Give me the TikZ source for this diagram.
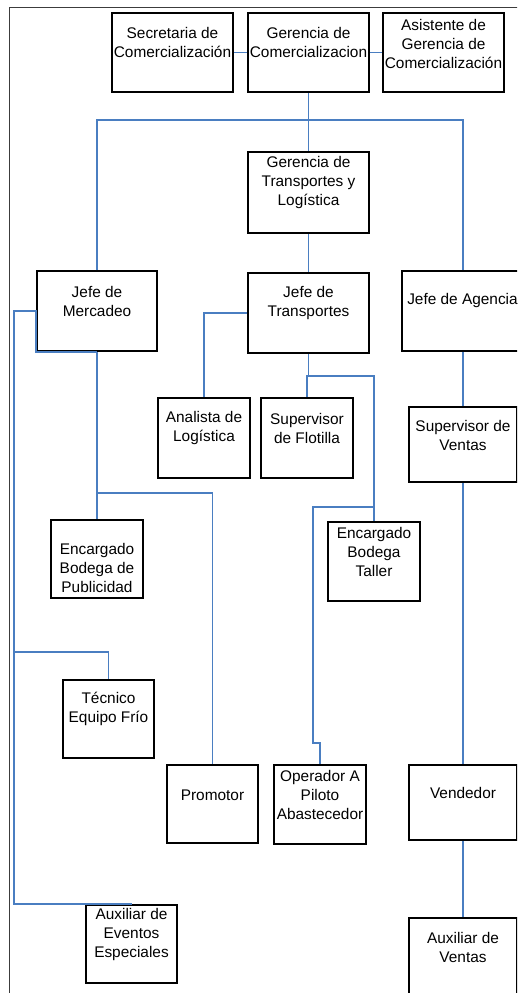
\documentclass[tikz,border=0pt]{standalone}
\usepackage{fontspec}
\setmainfont{Liberation Sans}
\definecolor{connblue}{RGB}{74,126,193}
\definecolor{framegray}{RGB}{60,60,60}
\tikzset{
  orgbox/.style={draw=black, line width=2pt, inner sep=0pt, fill=white},
  orgtxt/.style={align=center, inner sep=0pt, font=\fontsize{15.4}{19}\selectfont},
  conn/.style={draw=connblue, line width=1.8pt},
  framel/.style={draw=framegray, line width=1.2pt}
}
\begin{document}
\begin{tikzpicture}[x=1pt,y=-1pt]
\useasboundingbox (0,0) rectangle (517,993);
\clip (0,0) rectangle (517,993);
% frame
\draw[framel] (9.5,1000) -- (9.5,7.3) -- (530,7.3);

% boxes
\node[orgbox, minimum width=121pt, minimum height=79pt] (sec) at (172.5,52.5) {};
\node[orgbox, minimum width=121pt, minimum height=79pt] (gc) at (308.5,52.5) {};
\node[orgbox, minimum width=121pt, minimum height=79pt] (asis) at (443.5,52.5) {};
\node[orgbox, minimum width=121pt, minimum height=81pt] (gt) at (308.5,192.5) {};
\node[orgbox, minimum width=120pt, minimum height=80pt] (jm) at (97,311) {};
\node[orgbox, minimum width=121pt, minimum height=80pt] (jt) at (308.5,313) {};
\node[orgbox, minimum width=122pt, minimum height=80pt] (ja) at (463,311) {};
\node[orgbox, minimum width=92pt, minimum height=80pt] (an) at (204,438) {};
\node[orgbox, minimum width=92pt, minimum height=80pt] (sf) at (307,438) {};
\node[orgbox, minimum width=108pt, minimum height=75pt] (sv) at (463,444.5) {};
\node[orgbox, minimum width=92pt, minimum height=78pt] (ebp) at (97,559) {};
\node[orgbox, minimum width=92pt, minimum height=79pt] (ebt) at (374,561.5) {};
\node[orgbox, minimum width=91pt, minimum height=78pt] (tec) at (108.5,719) {};
\node[orgbox, minimum width=91pt, minimum height=78pt] (pro) at (212.5,804) {};
\node[orgbox, minimum width=92pt, minimum height=79pt] (op) at (320,804.5) {};
\node[orgbox, minimum width=108pt, minimum height=75pt] (ven) at (463,802.5) {};
\node[orgbox, minimum width=91pt, minimum height=78pt] (aev) at (131.5,944) {};
\node[orgbox, minimum width=108pt, minimum height=80pt] (avt) at (463,958) {};

% texts
\node[orgtxt] (secT) at ([yshift=10pt]sec.center) {Secretaria de\\Comercialización};
\node[orgtxt] (gcT) at ([yshift=10pt]gc.center) {Gerencia de\\Comercializacion};
\node[orgtxt] (asisT) at ([yshift=8.5pt]asis.center) {Asistente de\\Gerencia de\\Comercialización};
\node[orgtxt] (gtT) at ([yshift=9.5pt]gt.center) {Gerencia de\\Transportes y\\Logística};
\node[orgtxt] (jmT) at ([yshift=9.5pt]jm.center) {Jefe de\\Mercadeo};
\node[orgtxt] (jtT) at ([yshift=9.5pt]jt.center) {Jefe de\\Transportes};
\node[orgtxt] (jaT) at ([yshift=10pt,xshift=-0.5pt]ja.center) {Jefe de Agencia};
\node[orgtxt] (anT) at ([yshift=9.5pt]an.center) {Analista de\\Logística};
\node[orgtxt] (sfT) at ([yshift=9.5pt]sf.center) {Supervisor\\de Flotilla};
\node[orgtxt] (svT) at ([yshift=9.5pt]sv.center) {Supervisor de\\Ventas};
\node[orgtxt] (ebpT) at ([yshift=-9pt]ebp.center) {Encargado\\Bodega de\\Publicidad};
\node[orgtxt] (ebtT) at ([yshift=9.5pt]ebt.center) {Encargado\\Bodega\\Taller};
\node[orgtxt] (tecT) at ([yshift=10pt]tec.center) {Técnico\\Equipo Frío};
\node[orgtxt] (proT) at ([yshift=9pt]pro.center) {Promotor};
\node[orgtxt] (opT) at ([yshift=9.5pt]op.center) {Operador A\\Piloto\\Abastecedor};
\node[orgtxt] (venT) at ([yshift=9.5pt]ven.center) {Vendedor};
\node[orgtxt] (aevT) at ([yshift=9pt]aev.center) {Auxiliar de\\Eventos\\Especiales};
\node[orgtxt] (avtT) at ([yshift=11pt]avt.center) {Auxiliar de\\Ventas};

% junction coordinates
\coordinate (bus) at (308.5,120);
\coordinate (jtJ) at (308.5,376);
\coordinate (opJ1) at (313,507);
\coordinate (opJ2) at (313,743);
\coordinate (mJ) at (97,493);
\coordinate (lx) at (14,311);
\coordinate (tJ) at (14,652);

% connectors
\draw[conn] (sec.east) -- (gc.west);
\draw[conn] (gc.east) -- (asis.west);
\draw[conn] (gc.south) -- (gt.north);
\draw[conn] (jm.north) -- (jm.north |- bus) -- (ja.north |- bus) -- (ja.north);
\draw[conn] (gt.south) -- (jt.north);
\draw[conn] (jt.west) -| (an.north);
\draw[conn] (jt.south) -- (jtJ);
\draw[conn] (sf.north) -- (sf.north |- jtJ) -- (ebt.north |- jtJ) -- (ebt.north);
\draw[conn] (opJ1 -| ebt.north) -- (opJ1) -- (opJ2) -- (opJ2 -| op.north) -- (op.north);
\draw[conn] (ja.south) -- (sv.north);
\draw[conn] (sv.south) -- (ven.north);
\draw[conn] (ven.south) -- (avt.north);
\draw[conn] (jm.south) -- (mJ) -- (ebp.north);
\draw[conn] (mJ) -| (pro.north);
\draw[conn] (jm.south) -- (jm.south west) -- (jm.west) -- (lx) -- (lx |- aev.north) -- (aev.north);
\draw[conn] (tJ) -| (tec.north);
\end{tikzpicture}
\end{document}
